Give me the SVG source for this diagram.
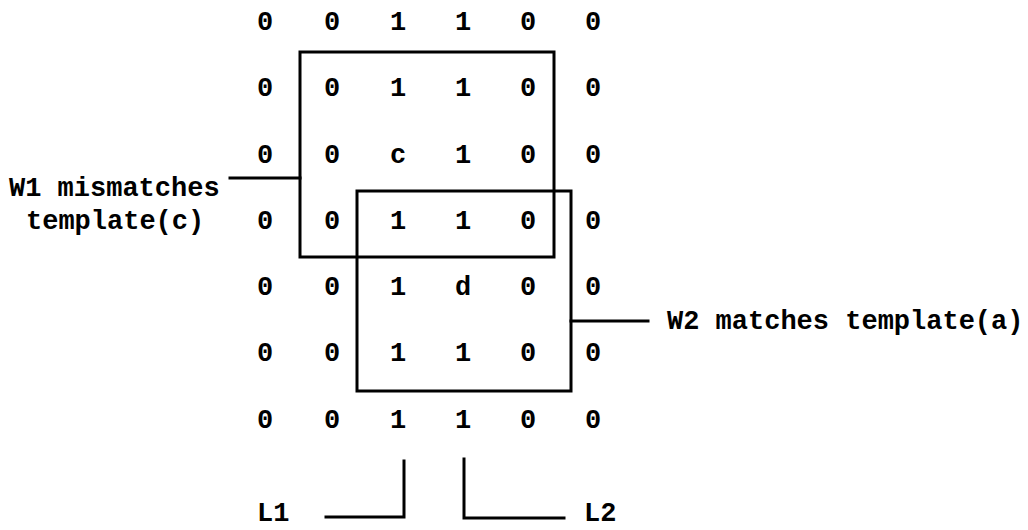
<svg xmlns="http://www.w3.org/2000/svg" width="1028" height="530" viewBox="0 0 1028 530">
<style>
text{font-family:"Liberation Mono","Courier New",monospace;font-weight:bold;font-size:27px;fill:#000}
.c{text-anchor:middle}
.ln{fill:none;stroke:#000;stroke-width:3;stroke-linecap:square}
</style>
<rect width="1028" height="530" fill="#fff"/>
<g id="grid">
<g id="row0"><text class="c" x="265" y="30">0</text><text class="c" x="332" y="30">0</text><text class="c" x="398" y="30">1</text><text class="c" x="463" y="30">1</text><text class="c" x="528" y="30">0</text><text class="c" x="593" y="30">0</text></g>
<g id="row1"><text class="c" x="265" y="96">0</text><text class="c" x="332" y="96">0</text><text class="c" x="398" y="96">1</text><text class="c" x="463" y="96">1</text><text class="c" x="528" y="96">0</text><text class="c" x="593" y="96">0</text></g>
<g id="row2"><text class="c" x="265" y="163">0</text><text class="c" x="332" y="163">0</text><text class="c" x="398" y="163">c</text><text class="c" x="463" y="163">1</text><text class="c" x="528" y="163">0</text><text class="c" x="593" y="163">0</text></g>
<g id="row3"><text class="c" x="265" y="229">0</text><text class="c" x="332" y="229">0</text><text class="c" x="398" y="229">1</text><text class="c" x="463" y="229">1</text><text class="c" x="528" y="229">0</text><text class="c" x="593" y="229">0</text></g>
<g id="row4"><text class="c" x="265" y="295">0</text><text class="c" x="332" y="295">0</text><text class="c" x="398" y="295">1</text><text class="c" x="463" y="295">d</text><text class="c" x="528" y="295">0</text><text class="c" x="593" y="295">0</text></g>
<g id="row5"><text class="c" x="265" y="361">0</text><text class="c" x="332" y="361">0</text><text class="c" x="398" y="361">1</text><text class="c" x="463" y="361">1</text><text class="c" x="528" y="361">0</text><text class="c" x="593" y="361">0</text></g>
<g id="row6"><text class="c" x="265" y="428">0</text><text class="c" x="332" y="428">0</text><text class="c" x="398" y="428">1</text><text class="c" x="463" y="428">1</text><text class="c" x="528" y="428">0</text><text class="c" x="593" y="428">0</text></g>
</g>
<g id="W1"><rect class="ln" x="300" y="52" width="254" height="205"/></g>
<g id="W2"><rect class="ln" x="357" y="191" width="214" height="200"/></g>
<g id="W1-label"><text x="9" y="196">W1 mismatches</text><text x="26" y="229">template(c)</text></g>
<g id="W2-label"><text x="667" y="329">W2 matches template(a)</text></g>
<g id="L1-label"><text x="257" y="521">L1</text></g>
<g id="L2-label"><text x="584" y="521">L2</text></g>
<g id="connectors">
<path class="ln" d="M230 178H300"/>
<path class="ln" d="M571 321H648"/>
<path class="ln" d="M404 461V517H326"/>
<path class="ln" d="M464 459V518H564"/>
</g>
</svg>
